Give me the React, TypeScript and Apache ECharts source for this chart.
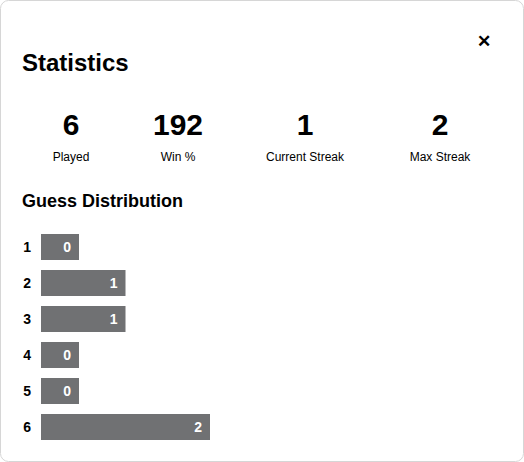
import { useRef, useEffect } from "react";
import * as echarts from "echarts";

const guesses = ["1", "2", "3", "4", "5", "6"];
const counts = [0, 1, 1, 0, 0, 2];
const statValues = ["6", "192", "1", "2"];
const statLabels = ["Played", "Win %", "Current Streak", "Max Streak"];
const statCenters = [71, 178, 305, 440];

const App = () => {
  const chartRef = useRef(null);

  useEffect(() => {
    if (!chartRef.current) return;
    const chart = echarts.init(chartRef.current, null, { renderer: "svg" });
    const font = "Helvetica, Arial, 'Liberation Sans', sans-serif";

    const statTexts: any[] = [];
    statValues.forEach((v, i) => {
      statTexts.push({
        type: "text", x: statCenters[i], y: 124,
        style: { text: v, font: `bold 30px ${font}`, fill: "#000", textAlign: "center", textVerticalAlign: "middle" },
      });
      statTexts.push({
        type: "text", x: statCenters[i], y: 157,
        style: { text: statLabels[i], font: `12px ${font}`, fill: "#000", textAlign: "center", textVerticalAlign: "middle" },
      });
    });

    chart.setOption({
      animation: false,
      grid: { left: 41, top: 229, width: 169, height: 216 },
      xAxis: { type: "value", min: 0, max: 2, show: false },
      yAxis: {
        type: "category",
        data: guesses,
        inverse: true,
        axisLine: { show: false },
        axisTick: { show: false },
        axisLabel: { color: "#000", fontWeight: "bold", fontSize: 14, fontFamily: font, margin: 10 },
      },
      series: [
        {
          type: "bar",
          data: counts,
          barWidth: 26,
          barMinHeight: 38,
          itemStyle: { color: "#707173" },
          label: {
            show: true,
            position: "insideRight",
            color: "#fff",
            fontWeight: "bold",
            fontSize: 14,
            fontFamily: font,
            distance: 8,
          },
        },
      ],
      graphic: [
        {
          type: "rect", shape: { x: 0.5, y: 0.5, width: 523, height: 461, r: 8 },
          style: { fill: "#fff", stroke: "#d6d6d6", lineWidth: 1 }, z: -10,
        },
        {
          type: "text", x: 22, y: 62,
          style: { text: "Statistics", font: `bold 24px ${font}`, fill: "#000", textVerticalAlign: "middle" },
        },
        {
          type: "text", x: 484, y: 41,
          style: { text: "✕", font: `bold 17px ${font}`, fill: "#000", textAlign: "center", textVerticalAlign: "middle" },
        },
        {
          type: "text", x: 22, y: 201,
          style: { text: "Guess Distribution", font: `bold 18px ${font}`, fill: "#000", textVerticalAlign: "middle" },
        },
        ...statTexts,
      ],
    });

    return () => chart.dispose();
  }, []);

  return (
    <div style={{ position: "fixed", left: 0, top: 0, width: 524, height: 462, background: "#fff" }}>
      <div ref={chartRef} style={{ width: 524, height: 462 }} />
    </div>
  );
};

export default App;
